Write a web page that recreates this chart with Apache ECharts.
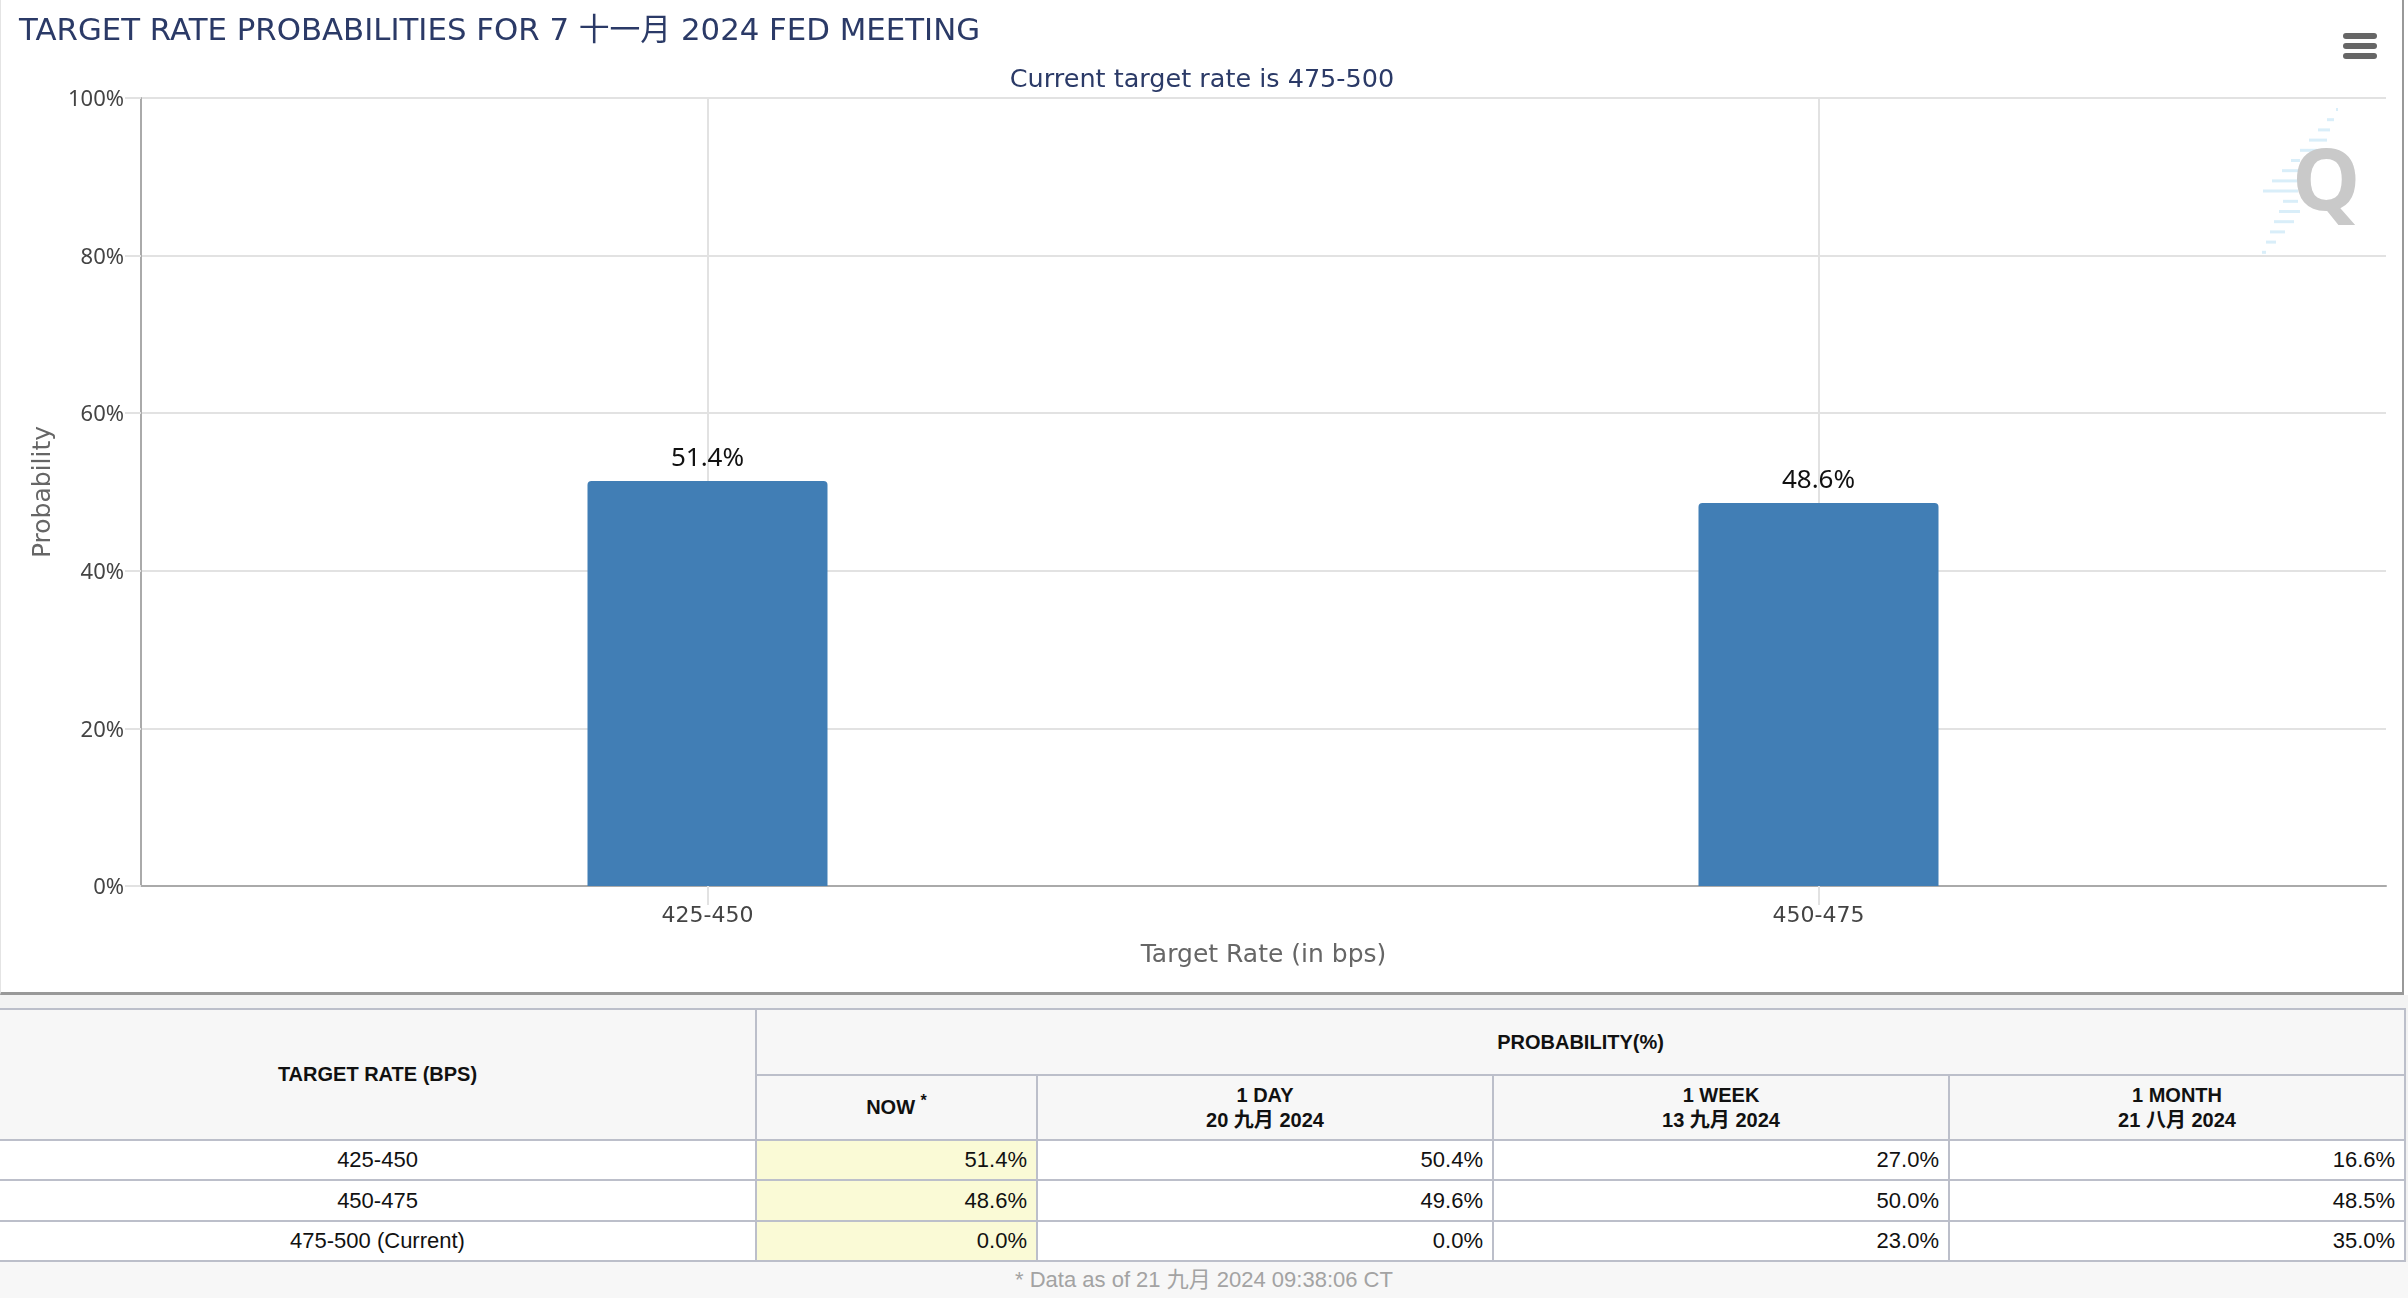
<!DOCTYPE html>
<html>
<head>
<meta charset="utf-8">
<title>Target rate probabilities</title>
<script src="https://cdn.jsdelivr.net/npm/echarts@6/dist/echarts.min.js"></script>
<style>
    html, body {margin: 0; padding: 0; width: 2408px; height: 1298px; overflow: hidden; background: #fff;}
    #main {position: absolute; left: 0; top: 0; width: 2408px; height: 994px;}
    #frame {position: absolute; left: 0; top: 0; width: 2404px; height: 995px; box-sizing: border-box; pointer-events: none;
        border-left: 1px solid #e4e4e4; border-right: 2px solid #999; border-bottom: 3px solid #999;}
    #lower {position: absolute; left: 0; top: 995px; width: 2408px; height: 303px; background: #f3f3f3;}
    #rates {position: absolute; left: 0; top: 1008px; width: 2405px; table-layout: fixed; border-collapse: collapse;
        font-family: "Liberation Sans", "Noto Sans CJK SC", sans-serif; font-size: 22px; color: #111; background: #fff;}
    #rates th {background: #f7f7f7; font-size: 20px; line-height: 25px; padding: 0; border: 2px solid #bcbfca; color: #111;}
    #rates td {padding: 0 9px; border: 2px solid #bcbfca; text-align: right;}
    #rates th:first-child, #rates td:first-child {border-left: none; text-align: center;}
    #rates td.now {background: #fafad6;}
    #rates sup {font-size: 16px; line-height: 0;}
    #note {position: absolute; left: 0; top: 1262px; width: 2408px; height: 36px; line-height: 36px; text-align: center; background: #f7f7f7;
        font-family: "Liberation Sans", "Noto Sans CJK SC", sans-serif; font-size: 22px; color: #a3a3a3;}
</style>
</head>
<body>
<div id="main"></div>
<div id="frame"></div>
<div id="lower"></div>
<table id="rates"></table>
<div id="note"></div>
<script>
    //柱状图数据
    var categories = ['425-450', '450-475'];
    var probabilities = [51.4, 48.6];
    var yTicks = [0, 20, 40, 60, 80, 100];

    //表格数据
    var rowNames = ['425-450', '450-475', '475-500 (Current)'];
    var nowValues = ['51.4%', '48.6%', '0.0%'];
    var dayValues = ['50.4%', '49.6%', '0.0%'];
    var weekValues = ['27.0%', '50.0%', '23.0%'];
    var monthValues = ['16.6%', '48.5%', '35.0%'];
    var columnHeads = ['1 DAY<br>20 九月 2024', '1 WEEK<br>13 九月 2024', '1 MONTH<br>21 八月 2024'];
    var rowHeights = [40, 41, 40];

    var chartFont = '"DejaVu Sans", "Noto Sans CJK SC", sans-serif';
    var narrowFont = '"Noto Sans", sans-serif';
    var titleColor = '#2b3a67';
    var gridColor = '#e2e2e2';
    var axisColor = '#aaaaaa';

    //水印Q左边的条纹 [x0, x1]
    var stripes = [[2336, 2338], [2327, 2334], [2318, 2330], [2309, 2327], [2300, 2317], [2291, 2300], [2282, 2298],
        [2272, 2298], [2263, 2298], [2283, 2298], [2279, 2300], [2274, 2294], [2270, 2285], [2266, 2276], [2262, 2266]];

    var graphics = [];
    for (var i = 0; i < stripes.length; i++) {
        graphics.push({
            type: 'rect', silent: true,
            shape: {x: stripes[i][0], y: 108 + i * 10.2, width: stripes[i][1] - stripes[i][0], height: 3},
            style: {fill: '#d9eef9'}
        });
    }
    graphics.push({
        type: 'text', silent: true, x: 2292, y: 142,
        style: {text: 'Q', fill: '#c9c9c9', font: 'bold 86px "Open Sans", sans-serif'}
    });
    //右上角菜单图标
    [33, 43, 53].forEach(function (y) {
        graphics.push({
            type: 'rect', silent: true,
            shape: {x: 2343, y: y, width: 34, height: 6, r: 3},
            style: {fill: '#666666'}
        });
    });

    var myChart = echarts.init(document.getElementById('main'));
    var option = {
        animation: false,
        backgroundColor: '#ffffff',
        textStyle: {fontFamily: chartFont},
        title: [
            {
                text: 'TARGET RATE PROBABILITIES FOR 7 十一月 2024 FED MEETING',
                left: 14, top: 12,
                textStyle: {fontFamily: chartFont, fontSize: 30.8, fontWeight: 'normal', color: titleColor}
            },
            {
                text: 'Current target rate is 475-500',
                left: 1197, top: 63, textAlign: 'center',
                textStyle: {fontFamily: chartFont, fontSize: 25.5, fontWeight: 'normal', color: titleColor}
            }
        ],
        grid: {left: 141, top: 98, width: 2245, height: 788},
        xAxis: {
            type: 'value',
            min: -0.5099,
            max: 1.5108,
            name: 'Target Rate (in bps)',
            nameLocation: 'center',
            nameGap: 57,
            nameTextStyle: {fontSize: 25, color: '#666666'},
            axisLine: {show: true, lineStyle: {color: axisColor, width: 2}},
            axisTick: {show: true, length: 19, customValues: [0, 1], lineStyle: {color: gridColor, width: 2}},
            axisLabel: {
                margin: 19, fontSize: 22, color: '#444444', customValues: [0, 1],
                formatter: function (value) {
                    return categories[value];
                }
            },
            splitLine: {show: true, lineStyle: {color: gridColor, width: 2}}
        },
        yAxis: {
            type: 'value',
            min: yTicks[0],
            max: yTicks[yTicks.length - 1],
            interval: yTicks[1] - yTicks[0],
            name: 'Probability',
            nameLocation: 'center',
            nameGap: 85,
            nameTextStyle: {fontSize: 25, color: '#666666'},
            axisLine: {show: true, onZero: false, lineStyle: {color: axisColor, width: 2}},
            axisTick: {show: true, length: 16, lineStyle: {color: gridColor, width: 2}},
            axisLabel: {
                margin: 17, fontFamily: narrowFont, fontSize: 22, color: '#444444',
                verticalAlign: 'top', lineHeight: 4, formatter: '{value}%'
            },
            splitLine: {show: true, lineStyle: {color: gridColor, width: 2}}
        },
        series: [{
            type: 'bar',
            barWidth: 240,
            data: probabilities.map(function (v, idx) {
                return [idx, v];
            }),
            itemStyle: {color: '#417eb5', borderRadius: [4, 4, 0, 0]},
            label: {
                show: true, position: 'top', distance: 9, fontFamily: narrowFont, fontSize: 26, color: '#111111',
                formatter: function (p) {
                    return p.value[1].toFixed(1) + '%';
                }
            }
        }],
        graphic: graphics
    };
    myChart.setOption(option);

    //下面的表格
    var html = '<colgroup><col style="width:756px"><col style="width:281px"><col style="width:456px"><col style="width:456px"><col style="width:456px"></colgroup>';
    html += '<tr style="height:66px"><th rowspan="2">TARGET RATE (BPS)</th><th colspan="4">PROBABILITY(%)</th></tr>';
    html += '<tr style="height:65px"><th>NOW <sup>*</sup></th>';
    for (var c = 0; c < columnHeads.length; c++) {
        html += '<th>' + columnHeads[c] + '</th>';
    }
    html += '</tr>';
    for (var r = 0; r < rowNames.length; r++) {
        html += '<tr style="height:' + rowHeights[r] + 'px"><td>' + rowNames[r] + '</td><td class="now">' + nowValues[r] + '</td><td>' + dayValues[r] +
            '</td><td>' + weekValues[r] + '</td><td>' + monthValues[r] + '</td></tr>';
    }
    document.getElementById('rates').innerHTML = html;
    document.getElementById('note').textContent = '* Data as of 21 九月 2024 09:38:06 CT';
</script>
</body>
</html>
